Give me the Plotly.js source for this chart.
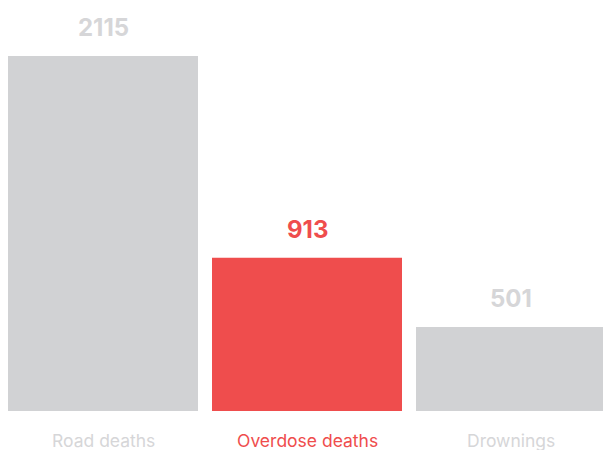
<!DOCTYPE html>
<html>
<head>
<meta charset="utf-8">
<script src="https://cdn.plot.ly/plotly-3.0.1.min.js"></script>
<style>html,body{margin:0;padding:0;background:#fff;}#chart{width:603px;height:450px;}</style>
</head>
<body>
<div id="chart"></div>
<script>
const categories = ["Road deaths", "Overdose deaths", "Drownings"];
const deaths = [2115, 913, 501];

const GREY = "#d1d2d4";
const RED = "#ef4d4d";
const barColors = [GREY, RED, GREY];
const labelColors = ["#d6d6d8", RED, "#d6d6d8"];
const FONT = "Inter, 'Open Sans', sans-serif";

const annotations = [];
categories.forEach((c, i) => {
  annotations.push({
    x: c, y: deaths[i], xref: "x", yref: "y",
    text: "<b>" + deaths[i] + "</b>",
    showarrow: false, yanchor: "bottom", yshift: 12,
    font: {family: FONT, size: 24, color: labelColors[i]}
  });
  annotations.push({
    x: c, y: 0, xref: "x", yref: "paper",
    text: c, showarrow: false, yanchor: "top", yshift: -17,
    font: {family: FONT, size: 17.5, color: labelColors[i]}
  });
});

Plotly.newPlot("chart", [{
  type: "bar",
  x: categories,
  y: deaths,
  marker: {color: barColors, line: {width: 0}},
  hoverinfo: "none"
}], {
  width: 603, height: 450,
  margin: {l: 1, r: 0, t: 0, b: 39},
  paper_bgcolor: "#fff", plot_bgcolor: "#fff",
  bargap: 0.0686,
  showlegend: false,
  xaxis: {type: "category", range: [-0.5, 2.451], showticklabels: false, showgrid: false, zeroline: false, showline: false, ticks: ""},
  yaxis: {range: [0, 2448.6], visible: false, showgrid: false, zeroline: false},
  annotations: annotations
}, {staticPlot: true});
</script>
</body>
</html>
